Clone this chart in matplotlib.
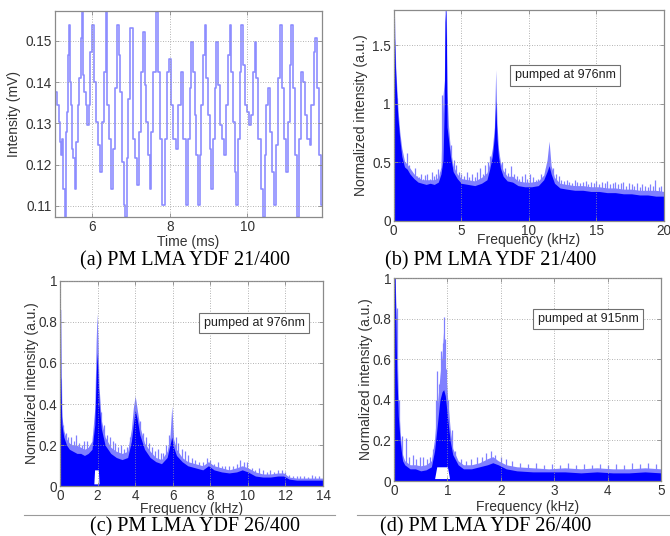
import matplotlib
matplotlib.use("Agg")
import matplotlib.pyplot as plt
from matplotlib.lines import Line2D

# ---------------- data ----------------
# (a) time trace (ms, mV)
t_a = [4.974, 5.026, 5.112, 5.130, 5.173, 5.199, 5.233, 5.259, 5.302, 5.319, 5.345, 5.371, 5.397,
       5.431, 5.457, 5.492, 5.518, 5.561, 5.604, 5.647, 5.673, 5.707, 5.733, 5.759, 5.802, 5.837,
       5.888, 5.923, 5.966, 6.018, 6.061, 6.104, 6.164, 6.224, 6.276, 6.319, 6.362, 6.405, 6.449,
       6.509, 6.552, 6.595, 6.655, 6.699, 6.750, 6.793, 6.837, 6.862, 6.905, 6.957, 7.009, 7.069,
       7.130, 7.181, 7.224, 7.285, 7.328, 7.371, 7.414, 7.457, 7.500, 7.543, 7.604, 7.664, 7.716,
       7.776, 7.845, 7.905, 7.957, 7.992, 8.060, 8.130, 8.190, 8.250, 8.320, 8.380, 8.450, 8.491,
       8.534, 8.578, 8.621, 8.664, 8.707, 8.750, 8.793, 8.836, 8.879, 8.922, 8.965, 9.009, 9.052,
       9.095, 9.138, 9.181, 9.224, 9.267, 9.328, 9.379, 9.440, 9.483, 9.526, 9.569, 9.612, 9.655,
       9.698, 9.741, 9.784, 9.828, 9.879, 9.914, 9.957, 10.017, 10.086, 10.129, 10.172, 10.215,
       10.259, 10.328, 10.388, 10.431, 10.474, 10.517, 10.560, 10.603, 10.672, 10.733, 10.776,
       10.828, 10.879, 10.931, 10.983, 11.034, 11.078, 11.121, 11.164, 11.207, 11.267, 11.336,
       11.379, 11.431, 11.465, 11.534, 11.595, 11.638, 11.690, 11.750, 11.793, 11.836, 11.897,
       11.940]
v_a = [0.1239, 0.1376, 0.1344, 0.1304, 0.1255, 0.1223, 0.1263, 0.1142, 0.1073, 0.1279, 0.1328,
       0.1465, 0.1538, 0.1401, 0.1344, 0.1239, 0.1215, 0.1142, 0.1255, 0.1344, 0.1409, 0.1506,
       0.1570, 0.1417, 0.1376, 0.1344, 0.1296, 0.1344, 0.1473, 0.1538, 0.1401, 0.1304, 0.1247,
       0.1182, 0.1304, 0.1425, 0.1570, 0.1344, 0.1263, 0.1142, 0.1239, 0.1385, 0.1538, 0.1465,
       0.1376, 0.1207, 0.1102, 0.1073, 0.1215, 0.1360, 0.1530, 0.1263, 0.1215, 0.1150, 0.1279,
       0.1425, 0.1522, 0.1393, 0.1304, 0.1223, 0.1142, 0.1279, 0.1425, 0.1570, 0.1425, 0.1263,
       0.1102, 0.1263, 0.1425, 0.1457, 0.1344, 0.1263, 0.1239, 0.1344, 0.1425, 0.1263, 0.1102,
       0.1263, 0.1385, 0.1498, 0.1425, 0.1320, 0.1223, 0.1102, 0.1223, 0.1344, 0.1465, 0.1538,
       0.1409, 0.1320, 0.1239, 0.1142, 0.1263, 0.1385, 0.1498, 0.1393, 0.1296, 0.1263, 0.1223,
       0.1344, 0.1465, 0.1538, 0.1425, 0.1304, 0.1182, 0.1102, 0.1263, 0.1425, 0.1538, 0.1441,
       0.1344, 0.1328, 0.1296, 0.1320, 0.1425, 0.1498, 0.1409, 0.1263, 0.1142, 0.1073, 0.1223,
       0.1344, 0.1385, 0.1279, 0.1182, 0.1102, 0.1247, 0.1409, 0.1538, 0.1385, 0.1263, 0.1182,
       0.1304, 0.1441, 0.1538, 0.1385, 0.1223, 0.1073, 0.1263, 0.1425, 0.1401, 0.1320, 0.1263,
       0.1247, 0.1344, 0.1473, 0.1506, 0.1385, 0.1223, 0.1102]

# (b) spectrum, PM LMA YDF 21/400, 976 nm (kHz, a.u.)
freq_b = [0.0, 0.05, 0.15, 0.3, 0.45, 0.6, 0.8, 1.0, 1.2, 1.5, 1.8, 2.1, 2.4, 2.7, 3.0, 3.3, 3.5,
          3.65, 3.75, 3.8, 3.85, 3.9, 3.95, 4.05, 4.2, 4.4, 4.7, 5.0, 5.5, 6.0, 6.5, 6.9, 7.1, 7.3,
          7.45, 7.55, 7.65, 7.75, 7.9, 8.1, 8.4, 8.8, 9.2, 9.7, 10.2, 10.7, 11.1, 11.35, 11.5,
          11.65, 11.9, 12.3, 12.8, 13.4, 14.0, 14.6, 15.2, 15.8, 16.4, 17.0, 17.6, 18.2, 18.8,
          19.4, 20.0]
dense_b = [1.80, 1.60, 1.25, 0.90, 0.70, 0.55, 0.46, 0.44, 0.40, 0.36, 0.33, 0.32, 0.31, 0.32,
           0.31, 0.33, 0.40, 0.52, 1.00, 1.70, 1.80, 1.55, 0.80, 0.70, 0.55, 0.42, 0.36, 0.32,
           0.31, 0.30, 0.32, 0.35, 0.44, 0.55, 0.72, 1.02, 0.70, 0.55, 0.45, 0.38, 0.34, 0.33,
           0.30, 0.29, 0.29, 0.30, 0.35, 0.42, 0.47, 0.40, 0.32, 0.28, 0.27, 0.26, 0.26, 0.25,
           0.25, 0.24, 0.24, 0.23, 0.23, 0.22, 0.22, 0.21, 0.21]
tip_b = [1.80, 1.80, 1.32, 0.98, 0.76, 0.62, 0.51, 0.48, 0.45, 0.40, 0.37, 0.35, 0.35, 0.35, 0.35,
         0.37, 0.46, 1.07, 1.20, 1.80, 1.80, 1.80, 1.10, 0.82, 0.60, 0.47, 0.40, 0.36, 0.35, 0.34,
         0.37, 0.41, 0.49, 0.62, 0.80, 1.29, 0.82, 0.62, 0.50, 0.43, 0.38, 0.38, 0.34, 0.33, 0.33,
         0.34, 0.39, 0.52, 0.68, 0.47, 0.37, 0.32, 0.31, 0.30, 0.30, 0.29, 0.29, 0.28, 0.28, 0.27,
         0.27, 0.26, 0.26, 0.26, 0.25]
spike_f_b = [0.25, 0.4, 0.55, 0.7, 0.85, 1.0, 1.15, 1.3, 1.45, 1.6, 1.75, 1.9, 2.05, 2.2, 2.35,
             2.5, 2.65, 2.8, 2.95, 3.1, 3.25, 3.4, 3.58, 4.25, 4.45, 4.6, 4.8, 5.0, 5.2, 5.4, 5.6,
             5.8, 6.0, 6.2, 6.4, 6.6, 6.75, 6.95, 7.15, 8.0, 8.25, 8.45, 8.7, 8.9, 9.1, 9.3, 9.5,
             9.7, 9.9, 10.1, 10.3, 10.5, 10.7, 10.9, 11.1, 11.25, 11.8, 12.0, 12.2, 12.4, 12.6,
             12.8, 13.0, 13.2, 13.4, 13.6, 13.8, 14.0, 14.2, 14.4, 14.6, 14.8, 15.0, 15.2, 15.4,
             15.6, 15.8, 16.0, 16.2, 16.4, 16.6, 16.8, 17.0, 17.2, 17.4, 17.6, 17.8, 18.0, 18.2,
             18.4, 18.6, 18.8, 19.0, 19.2, 19.35, 19.6, 19.8]
spike_h_b = [1.05, 0.66, 0.60, 0.52, 0.50, 0.58, 0.48, 0.42, 0.40, 0.45, 0.38, 0.37, 0.40, 0.36,
             0.39, 0.40, 0.36, 0.42, 0.38, 0.40, 0.44, 0.42, 1.07, 0.65, 0.52, 0.48, 0.42, 0.40,
             0.38, 0.42, 0.37, 0.40, 0.37, 0.42, 0.45, 0.40, 0.48, 0.50, 0.55, 0.50, 0.45, 0.41,
             0.47, 0.40, 0.38, 0.36, 0.38, 0.40, 0.36, 0.40, 0.37, 0.35, 0.36, 0.40, 0.38, 0.45,
             0.45, 0.40, 0.38, 0.35, 0.34, 0.35, 0.33, 0.32, 0.35, 0.33, 0.32, 0.33, 0.34, 0.31,
             0.33, 0.32, 0.34, 0.31, 0.33, 0.32, 0.34, 0.31, 0.32, 0.33, 0.31, 0.32, 0.33, 0.30,
             0.32, 0.31, 0.30, 0.32, 0.29, 0.31, 0.30, 0.29, 0.31, 0.30, 0.35, 0.29, 0.30]

# (c) spectrum, PM LMA YDF 26/400, 976 nm
freq_c = [0.0, 0.04, 0.1, 0.2, 0.35, 0.5, 0.7, 0.9, 1.1, 1.3, 1.5, 1.7, 1.85, 1.92, 1.97, 2.02,
          2.08, 2.2, 2.4, 2.7, 3.0, 3.3, 3.6, 3.8, 3.9, 4.0, 4.1, 4.25, 4.5, 4.8, 5.1, 5.4, 5.7,
          5.85, 5.95, 6.05, 6.2, 6.5, 6.8, 7.2, 7.6, 7.9, 8.2, 8.6, 9.0, 9.4, 9.7, 10.0, 10.4,
          10.8, 11.2, 11.6, 11.9, 12.2, 12.6, 13.0, 13.4, 13.8, 14.0]
dense_c = [0.55, 0.52, 0.30, 0.24, 0.20, 0.18, 0.17, 0.16, 0.16, 0.15, 0.16, 0.18, 0.30, 0.52,
           0.65, 0.55, 0.40, 0.28, 0.20, 0.16, 0.14, 0.13, 0.14, 0.22, 0.30, 0.37, 0.33, 0.25,
           0.18, 0.14, 0.12, 0.11, 0.14, 0.20, 0.24, 0.19, 0.15, 0.12, 0.10, 0.09, 0.08, 0.10,
           0.08, 0.07, 0.065, 0.07, 0.08, 0.07, 0.05, 0.045, 0.045, 0.05, 0.05, 0.035, 0.03,
           0.03, 0.03, 0.03, 0.03]
tip_c = [0.86, 0.86, 0.34, 0.27, 0.23, 0.21, 0.20, 0.20, 0.19, 0.18, 0.19, 0.22, 0.38, 0.70,
         0.84, 0.72, 0.48, 0.32, 0.24, 0.19, 0.17, 0.16, 0.17, 0.28, 0.38, 0.44, 0.38, 0.29,
         0.21, 0.17, 0.14, 0.13, 0.17, 0.24, 0.39, 0.23, 0.18, 0.14, 0.12, 0.11, 0.10, 0.12,
         0.10, 0.09, 0.08, 0.09, 0.10, 0.09, 0.07, 0.06, 0.06, 0.065, 0.065, 0.045, 0.04, 0.04,
         0.04, 0.04, 0.04]
spike_f_c = [0.15, 0.3, 0.45, 0.6, 0.75, 0.85, 1.0, 1.15, 1.25, 1.45, 1.6, 1.75, 2.2, 2.35, 2.5,
             2.65, 2.8, 2.95, 3.1, 3.25, 3.4, 3.55, 3.7, 4.25, 4.4, 4.6, 4.75, 4.9, 5.05, 5.2,
             5.35, 5.5, 5.65, 5.8, 6.15, 6.3, 6.5, 6.65, 6.8, 7.0, 7.2, 7.4, 7.6, 7.85, 8.0, 8.2,
             8.4, 8.6, 8.8, 9.0, 9.2, 9.4, 9.6, 9.8, 9.95, 10.2, 10.4, 10.6, 10.8, 11.0, 11.2,
             11.4, 11.6, 11.8, 12.0, 12.2, 12.4, 12.6, 12.8, 13.0, 13.2, 13.4, 13.6, 13.8]
spike_h_c = [0.30, 0.26, 0.24, 0.24, 0.22, 0.25, 0.21, 0.20, 0.22, 0.22, 0.20, 0.25, 0.36, 0.30,
             0.25, 0.24, 0.22, 0.21, 0.19, 0.20, 0.18, 0.19, 0.24, 0.32, 0.26, 0.24, 0.21, 0.19,
             0.17, 0.18, 0.16, 0.16, 0.20, 0.25, 0.24, 0.21, 0.18, 0.17, 0.15, 0.14, 0.13, 0.12,
             0.12, 0.14, 0.13, 0.11, 0.12, 0.10, 0.10, 0.10, 0.10, 0.11, 0.13, 0.12, 0.12, 0.09,
             0.08, 0.09, 0.08, 0.07, 0.08, 0.07, 0.08, 0.08, 0.07, 0.055, 0.05, 0.05, 0.05, 0.05,
             0.045, 0.055, 0.05, 0.05]
gap_f_c = [1.80, 1.84, 2.04, 2.08]
gap_h_c = [0.012, 0.08, 0.08, 0.012]

# (d) spectrum, PM LMA YDF 26/400, 915 nm
freq_d = [0.0, 0.02, 0.05, 0.08, 0.12, 0.16, 0.2, 0.3, 0.4, 0.5, 0.6, 0.7, 0.76, 0.82, 0.86, 0.9,
          0.93, 0.96, 1.0, 1.05, 1.1, 1.2, 1.3, 1.45, 1.6, 1.75, 1.85, 1.95, 2.1, 2.3, 2.6, 2.9,
          3.2, 3.5, 3.8, 4.1, 4.4, 4.7, 5.0]
dense_d = [1.0, 1.0, 0.55, 0.32, 0.18, 0.10, 0.08, 0.06, 0.06, 0.05, 0.055, 0.07, 0.15, 0.30,
           0.40, 0.44, 0.45, 0.42, 0.32, 0.20, 0.13, 0.08, 0.06, 0.06, 0.07, 0.08, 0.09, 0.08,
           0.06, 0.05, 0.045, 0.045, 0.045, 0.04, 0.045, 0.04, 0.04, 0.045, 0.04]
tip_d = [1.0, 1.0, 0.75, 0.40, 0.22, 0.13, 0.10, 0.08, 0.08, 0.075, 0.08, 0.10, 0.21, 0.40, 0.52,
         0.62, 0.75, 0.58, 0.42, 0.26, 0.16, 0.10, 0.08, 0.08, 0.09, 0.11, 0.12, 0.10, 0.08,
         0.07, 0.065, 0.06, 0.065, 0.06, 0.065, 0.06, 0.06, 0.065, 0.06]
spike_f_d = [0.06, 0.1, 0.14, 0.22, 0.28, 0.35, 0.42, 0.48, 0.55, 0.62, 0.68, 0.73, 0.78, 0.8,
             0.84, 0.88, 0.91, 0.93, 0.95, 0.98, 1.02, 1.08, 1.15, 1.25, 1.35, 1.45, 1.55, 1.65,
             1.72, 1.82, 1.9, 2.0, 2.1, 2.2, 2.35, 2.5, 2.65, 2.8, 2.95, 3.1, 3.25, 3.4, 3.55,
             3.7, 3.85, 4.0, 4.15, 4.3, 4.45, 4.6, 4.75, 4.9]
spike_h_d = [0.85, 0.40, 0.22, 0.21, 0.12, 0.13, 0.11, 0.12, 0.12, 0.11, 0.12, 0.16, 0.40, 0.54,
             0.48, 0.64, 0.68, 0.81, 0.70, 0.55, 0.40, 0.25, 0.15, 0.11, 0.10, 0.11, 0.12, 0.12,
             0.14, 0.15, 0.13, 0.12, 0.11, 0.10, 0.09, 0.085, 0.09, 0.08, 0.085, 0.08, 0.09, 0.08,
             0.085, 0.08, 0.085, 0.08, 0.085, 0.08, 0.09, 0.085, 0.09, 0.085]
gap_f_d = [0.76, 0.80, 1.00, 1.04]
gap_h_d = [0.012, 0.07, 0.07, 0.012]

captions = ["(a) PM LMA YDF 21/400", "(b) PM LMA YDF 21/400",
            "(c) PM LMA YDF 26/400", "(d) PM LMA YDF 26/400"]
notes = ["pumped at 976nm", "pumped at 976nm", "pumped at 915nm"]

# ---------------- style ----------------
plt.rcParams['font.family'] = ['Liberation Sans', 'DejaVu Sans']
TICK_C = '#333333'
EDGE_C = '#8a8a8a'
BLUE = '#0000ff'
LIGHT = '#8080ff'

fig = plt.figure(figsize=(6.7, 5.36), dpi=100)


def style(ax, ylabel, xlabel):
    for s in ax.spines.values():
        s.set_color(EDGE_C)
        s.set_linewidth(0.9)
    ax.tick_params(direction='in', length=3, width=0.6, color=EDGE_C,
                   labelsize=9.8, labelcolor=TICK_C, pad=2, top=True, right=True)
    ax.grid(True, linestyle=(0, (1, 2)), color='#9a9a9a', linewidth=0.6)
    ax.set_axisbelow(False)
    ax.set_ylabel(ylabel, fontsize=10, color=TICK_C)
    ax.set_xlabel(xlabel, fontsize=10, color=TICK_C)


def spectrum(ax, f, dense, tip, sf, sh, gf=None, gh=None):
    ax.fill_between(f, 0, tip, color=LIGHT, linewidth=0, zorder=1)
    ax.vlines(sf, 0, sh, color=LIGHT, linewidth=0.9, zorder=1)
    ax.fill_between(f, 0, dense, color=BLUE, linewidth=0, zorder=2)
    if gf is not None:
        ax.fill_between(gf, 0.012, gh, color='white', linewidth=0, zorder=2.5)


def note(ax, x, y, s):
    ax.text(x, y, s, transform=ax.transAxes, ha='center', va='center',
            fontsize=9, color='#222222', zorder=5,
            bbox=dict(boxstyle='square,pad=0.35', fc='white', ec='#707070', lw=0.8))


# (a)
ax_a = fig.add_axes([0.0821, 0.5951, 0.3985, 0.3843])
ax_a.plot(t_a, v_a, color='#3030ff', alpha=0.55, linewidth=1.2, drawstyle='steps-mid')
ax_a.set_xlim(5.03, 11.94)
ax_a.set_ylim(0.1073, 0.1572)
ax_a.set_xticks([6, 8, 10])
ax_a.set_yticks([0.11, 0.12, 0.13, 0.14, 0.15])
style(ax_a, 'Intensity (mV)', 'Time (ms)')
ax_a.yaxis.set_label_coords(-0.127, 0.5)
ax_a.xaxis.set_label_coords(0.5, -0.087)

# (b)
ax_b = fig.add_axes([0.5876, 0.5882, 0.4034, 0.3931])
spectrum(ax_b, freq_b, dense_b, tip_b, spike_f_b, spike_h_b)
ax_b.set_xlim(0, 20)
ax_b.set_ylim(0, 1.8)
ax_b.set_xticks([0, 5, 10, 15, 20])
ax_b.set_yticks([0, 0.5, 1, 1.5])
ax_b.set_yticklabels(['0', '0.5', '1', '1.5'])
style(ax_b, 'Normalized intensity (a.u.)', 'Frequency (kHz)')
ax_b.yaxis.set_label_coords(-0.095, 0.5)
ax_b.xaxis.set_label_coords(0.5, -0.058)
note(ax_b, 0.634, 0.69, notes[0])

# (c)
ax_c = fig.add_axes([0.0896, 0.0927, 0.3925, 0.3836])
spectrum(ax_c, freq_c, dense_c, tip_c, spike_f_c, spike_h_c, gap_f_c, gap_h_c)
ax_c.set_xlim(0, 14)
ax_c.set_ylim(0, 1)
ax_c.set_xticks(list(range(0, 15, 2)))
ax_c.set_yticks([0, 0.2, 0.4, 0.6, 0.8, 1])
ax_c.set_yticklabels(['0', '0.2', '0.4', '0.6', '0.8', '1'])
style(ax_c, 'Normalized intensity (a.u.)', 'Frequency (kHz)')
ax_c.yaxis.set_label_coords(-0.08, 0.5)
ax_c.xaxis.set_label_coords(0.5, -0.076)
note(ax_c, 0.738, 0.794, notes[1])

# (d)
ax_d = fig.add_axes([0.5881, 0.1026, 0.3985, 0.3787])
spectrum(ax_d, freq_d, dense_d, tip_d, spike_f_d, spike_h_d, gap_f_d, gap_h_d)
ax_d.set_xlim(0, 5)
ax_d.set_ylim(0, 1)
ax_d.set_xticks([0, 1, 2, 3, 4, 5])
ax_d.set_yticks([0, 0.2, 0.4, 0.6, 0.8, 1])
ax_d.set_yticklabels(['0', '0.2', '0.4', '0.6', '0.8', '1'])
style(ax_d, 'Normalized intensity (a.u.)', 'Frequency (kHz)')
ax_d.yaxis.set_label_coords(-0.079, 0.5)
ax_d.xaxis.set_label_coords(0.5, -0.095)
note(ax_d, 0.727, 0.798, notes[2])

# captions
cap_pos = [(185, 261), (491, 261), (195, 527), (486, 527)]
for (x, y), c in zip(cap_pos, captions):
    fig.text(x / 670, 1 - y / 536, c, ha='center', va='center', fontsize=14.5,
             family=['Liberation Serif', 'DejaVu Serif'], color='black')

# separator lines above bottom captions
fig.add_artist(Line2D([24 / 670, 335 / 670], [1 - 515 / 536] * 2, color='#9a9a9a', lw=0.8))
fig.add_artist(Line2D([357 / 670, 1.0], [1 - 515 / 536] * 2, color='#9a9a9a', lw=0.8))

fig.savefig('out.png', dpi=100)
